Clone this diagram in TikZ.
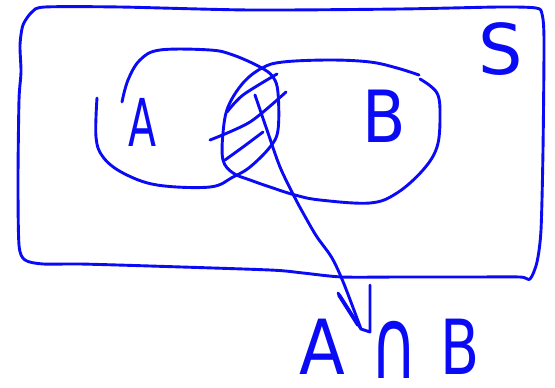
\documentclass[tikz,border=0pt]{standalone}
\usepackage{fontspec}
\setmainfont{DejaVu Sans}
\definecolor{pen}{RGB}{10,10,245}
\tikzset{
  stroke/.style={draw=pen, line width=2.9pt, line cap=round, line join=round},
  hand/.style={text=pen, inner sep=0pt, outer sep=0pt, transform shape},
}
\begin{document}
\begin{tikzpicture}[x=1pt,y=-1pt]
\useasboundingbox (0,0) rectangle (555,388);
% universe S
\draw[stroke] plot[smooth cycle, tension=0.45] coordinates {(21,72) (20,45) (23,25) (32,12) (45,7) (120,7) (250,10) (400,9) (500,7) (536,8) (542,14) (544,40) (543,150) (541,230) (537,262) (530,279) (520,277) (470,277) (400,277) (342,277) (303,273) (270,270) (150,266) (80,264) (43,264) (25,260) (19,245) (18,180) (19,100)};
% set A
\draw[stroke] plot[smooth, tension=0.6] coordinates {(97,98) (96,137) (103,157) (123,173) (157,185) (210,187) (233,177) (250,167) (270,147) (278,130) (278,93) (273,77) (260,67) (233,55) (210,50) (160,50) (140,60) (128,80) (122,102)};
% set B
\draw[stroke] plot[smooth, tension=0.6] coordinates {(419,75) (397,68) (370,62) (330,60) (283,62) (262,68) (243,83) (228,107) (223,133) (223,160) (233,173) (250,180) (270,187) (295,195) (320,200) (370,203) (397,193) (423,170) (437,147) (440,117) (437,93) (420,79)};
% hatching
\draw[stroke] plot[smooth] coordinates {(227,112) (243,95) (277,74)};
\draw[stroke] plot[smooth] coordinates {(210,140) (250,122) (286,92)};
\draw[stroke] plot[smooth] coordinates {(225,160) (243,147) (263,132)};
% labels
\node[hand, font=\fontsize{66}{66}\selectfont, xscale=0.62] (la) at (142,122) {A};
\node[hand, font=\fontsize{72}{72}\selectfont, xscale=0.88] (lb) at (384,116) {B};
\node[hand, font=\fontsize{70}{70}\selectfont] (ls) at (501,49) {S};
\node[hand, font=\fontsize{76}{76}\selectfont, xscale=0.88] (ia) at (322,347) {A};
\node[hand, font=\fontsize{76}{76}\selectfont, xscale=0.85, yscale=1.3] (cap) at (394,350) {∩};
\node[hand, font=\fontsize{76}{76}\selectfont, xscale=0.75] (ib) at (460,347) {B};
% arrow from intersection to label
\coordinate (lens) at (255,95);
\coordinate (tip) at (361,329);
\draw[stroke] plot[smooth, tension=0.5] coordinates {(lens) (267,130) (280,167) (295,198) (307,220) (317,237) (332,258) (344,284) (tip)};
\draw[stroke] (338,293) -- (tip) -- (370,332) -- (370,285);
\draw[stroke, line width=3.8pt] (339,295) -- (358,325);
\end{tikzpicture}
\end{document}
